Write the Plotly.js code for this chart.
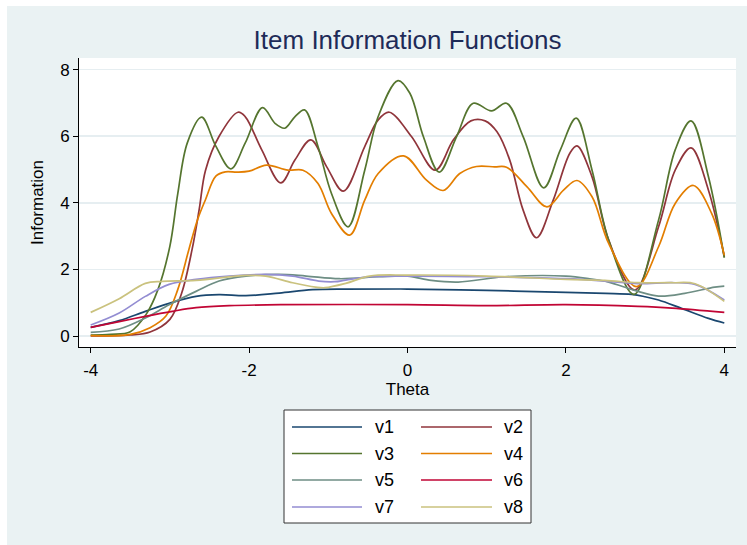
<!DOCTYPE html>
<html>
<head>
<meta charset="utf-8">
<script src="https://cdn.plot.ly/plotly-3.0.1.min.js"></script>
<style>
  html, body { margin: 0; padding: 0; background: #ffffff; }
  #chart { position: absolute; left: 7px; top: 6px; width: 740px; height: 539px; }
</style>
</head>
<body>
<div id="chart"></div>
<script>
// ---------------- DATA ----------------
const seriesNames = ['v1', 'v2', 'v3', 'v4', 'v5', 'v6', 'v7', 'v8'];

const v1_theta = [-4, -3.64, -3.31, -2.97, -2.67, -2.38, -2.04, -1.62, -1.2, -0.78, 0, 1, 2, 2.5, 2.83, 3.0, 3.17, 3.46, 3.8, 4];
const v1_info  = [0.26, 0.46, 0.74, 1.01, 1.19, 1.24, 1.21, 1.29, 1.39, 1.41, 1.41, 1.37, 1.31, 1.28, 1.25, 1.18, 1.08, 0.83, 0.53, 0.39];

const v2_theta = [-4, -3.5, -3.25, -3.0, -2.85, -2.72, -2.63, -2.55, -2.38, -2.14, -2.05, -1.84, -1.6, -1.42, -1.22, -1.02, -0.81, -0.54, -0.37, -0.23, 0.05, 0.35, 0.58, 0.8, 0.98, 1.13, 1.29, 1.46, 1.63, 1.84, 2.05, 2.14, 2.33, 2.54, 2.87, 3.17, 3.38, 3.58, 3.8, 4];
const v2_info  = [0.0, 0.03, 0.12, 0.5, 1.3, 2.6, 3.8, 4.98, 5.99, 6.72, 6.59, 5.59, 4.60, 5.29, 5.89, 5.08, 4.35, 5.69, 6.49, 6.72, 5.99, 4.98, 5.89, 6.46, 6.46, 6.13, 5.29, 3.78, 2.95, 4.08, 5.49, 5.71, 4.78, 2.88, 1.38, 3.28, 4.98, 5.65, 4.38, 2.38];

const v3_theta = [-4, -3.75, -3.5, -3.3, -3.15, -3.0, -2.9, -2.78, -2.6, -2.42, -2.23, -2.05, -1.83, -1.67, -1.55, -1.42, -1.3, -1.13, -0.96, -0.75, -0.54, -0.37, -0.12, 0.03, 0.2, 0.4, 0.62, 0.83, 1.06, 1.25, 1.46, 1.72, 1.93, 2.13, 2.33, 2.54, 2.86, 3.17, 3.38, 3.58, 3.8, 4];
const v3_info  = [0.03, 0.05, 0.13, 0.65, 1.4, 2.7, 4.28, 5.8, 6.57, 5.7, 5.02, 5.79, 6.86, 6.38, 6.24, 6.59, 6.79, 5.69, 4.28, 3.28, 4.98, 6.59, 7.67, 7.29, 5.99, 4.92, 5.99, 6.99, 6.76, 6.99, 5.99, 4.45, 5.59, 6.54, 4.98, 2.88, 1.25, 3.48, 5.59, 6.46, 4.78, 2.35];

const v4_theta = [-4, -3.5, -3.25, -3.05, -2.9, -2.76, -2.65, -2.55, -2.42, -2.3, -2.15, -2.0, -1.78, -1.51, -1.32, -1.13, -0.96, -0.73, -0.54, -0.37, -0.05, 0.24, 0.45, 0.66, 0.87, 1.1, 1.25, 1.51, 1.76, 1.97, 2.14, 2.33, 2.54, 2.89, 3.17, 3.38, 3.61, 3.84, 4];
const v4_info  = [0.01, 0.05, 0.25, 0.6, 1.4, 2.6, 3.5, 4.1, 4.8, 4.93, 4.92, 4.95, 5.13, 4.98, 4.98, 4.58, 3.68, 3.03, 4.08, 4.88, 5.41, 4.68, 4.37, 4.88, 5.09, 5.08, 5.07, 4.48, 3.88, 4.38, 4.67, 4.18, 2.78, 1.48, 2.68, 3.98, 4.52, 3.68, 2.42];

const v5_theta = [-4, -3.64, -3.31, -3.01, -2.67, -2.38, -2.04, -1.62, -1.28, -0.86, -0.36, 0, 0.3, 0.64, 1.23, 2.0, 2.3, 2.54, 2.87, 3.17, 3.5, 3.88, 4];
const v5_info  = [0.11, 0.21, 0.54, 0.94, 1.34, 1.65, 1.80, 1.85, 1.80, 1.72, 1.78, 1.80, 1.67, 1.62, 1.78, 1.80, 1.72, 1.62, 1.37, 1.20, 1.28, 1.47, 1.50];

const v6_theta = [-4, -3.64, -3.31, -2.97, -2.67, -2.25, -1.6, 0, 1, 2, 2.91, 3.34, 4];
const v6_info  = [0.26, 0.43, 0.59, 0.74, 0.85, 0.91, 0.94, 0.94, 0.91, 0.94, 0.89, 0.84, 0.71];

const v7_theta = [-4, -3.64, -3.31, -3.01, -2.67, -2.25, -1.79, -1.45, -1.12, -0.92, -0.78, -0.48, 0, 1, 2, 2.49, 2.91, 3.34, 3.63, 4];
const v7_info  = [0.33, 0.69, 1.19, 1.55, 1.70, 1.80, 1.85, 1.80, 1.65, 1.63, 1.68, 1.78, 1.80, 1.78, 1.72, 1.65, 1.57, 1.60, 1.55, 1.08];

const v8_theta = [-4, -3.64, -3.31, -3.1, -2.67, -2.04, -1.79, -1.45, -1.16, -1.04, -0.78, -0.48, 0, 1, 2, 2.49, 2.91, 3.34, 3.63, 4];
const v8_info  = [0.71, 1.12, 1.58, 1.64, 1.67, 1.82, 1.80, 1.60, 1.47, 1.45, 1.58, 1.80, 1.83, 1.80, 1.70, 1.67, 1.60, 1.60, 1.57, 1.04];

const xTickVals = [-4, -2, 0, 2, 4];
const yTickVals = [0, 2, 4, 6, 8];
const titleText = 'Item Information Functions';
const xTitleText = 'Theta';
const yTitleText = 'Information';

// ---------------- STYLE ----------------
const seriesColors = ['#1a476f', '#90353b', '#55752f', '#e37e00', '#6e8e84', '#c10534', '#938dd2', '#cac27e'];
const thetaArrays = [v1_theta, v2_theta, v3_theta, v4_theta, v5_theta, v6_theta, v7_theta, v8_theta];
const infoArrays  = [v1_info, v2_info, v3_info, v4_info, v5_info, v6_info, v7_info, v8_info];
const FONT = 'Liberation Sans, Arial, Helvetica, sans-serif';
const BG = '#eaf2f3';

// Plot area in page pixels (chart div is offset by 7,6)
const PL = 79, PR = 736, PT = 58, PB = 347;
const OFFX = 7, OFFY = 6, W = 740, H = 539;
const px2paperX = p => (p - PL) / (PR - PL);
const px2paperY = p => (PB - p) / (PB - PT);

const traces = seriesNames.map((name, i) => ({
  type: 'scatter',
  mode: 'lines',
  name: name,
  x: thetaArrays[i],
  y: infoArrays[i],
  line: { color: seriesColors[i], width: 1.7, shape: 'spline', smoothing: 1 },
  hoverinfo: 'x+y+name'
}));

// ---------------- custom Stata-style legend ----------------
const shapes = [];
const annotations = [];
shapes.push({
  type: 'rect', xref: 'paper', yref: 'paper',
  x0: px2paperX(284), x1: px2paperX(531), y0: px2paperY(410), y1: px2paperY(523),
  fillcolor: '#ffffff', line: { color: '#333333', width: 1 }, layer: 'above'
});
const colLineX = [[292, 362], [421, 492]];
const colTextX = [373, 502];
const rowY = [427, 453.5, 480, 507];
seriesNames.forEach((name, i) => {
  const c = i % 2, r = Math.floor(i / 2);
  shapes.push({
    type: 'line', xref: 'paper', yref: 'paper',
    x0: px2paperX(colLineX[c][0]), x1: px2paperX(colLineX[c][1]),
    y0: px2paperY(rowY[r]), y1: px2paperY(rowY[r]),
    line: { color: seriesColors[i], width: 1.7 }, layer: 'above'
  });
  annotations.push({
    xref: 'paper', yref: 'paper', x: px2paperX(colTextX[c]), y: px2paperY(rowY[r]),
    xanchor: 'left', yanchor: 'middle', text: name, showarrow: false,
    font: { family: FONT, size: 18, color: '#000000' }
  });
});

const layout = {
  width: W, height: H,
  paper_bgcolor: BG,
  plot_bgcolor: '#ffffff',
  showlegend: false,
  margin: { l: PL - OFFX, r: (OFFX + W) - PR, t: PT - OFFY, b: (OFFY + H) - PB, pad: 0 },
  title: {
    text: titleText,
    font: { family: FONT, size: 26, color: '#1e2b58' },
    x: 0.5, xref: 'paper', xanchor: 'center',
    y: 1 - (40 - OFFY) / H, yref: 'container', yanchor: 'middle'
  },
  xaxis: {
    range: [-4 - (90.7 - PL) / 79.2, 4 + (PR - 724.3) / 79.2],
    tickvals: xTickVals, ticktext: xTickVals.map(String),
    ticks: 'outside', ticklen: 5, tickwidth: 1, tickcolor: '#000000',
    showline: true, linecolor: '#000000', linewidth: 1,
    showgrid: false, zeroline: false,
    tickfont: { family: FONT, size: 17, color: '#000000' },
    ticklabelstandoff: 3,
    title: { text: xTitleText, font: { family: FONT, size: 17, color: '#000000' }, standoff: 2 },
    fixedrange: true
  },
  yaxis: {
    range: [-(PB - 336) / 33.3, (336 - PT) / 33.3],
    tickvals: yTickVals, ticktext: yTickVals.map(String),
    ticks: 'outside', ticklen: 5, tickwidth: 1, tickcolor: '#000000',
    showline: true, linecolor: '#000000', linewidth: 1,
    showgrid: true, gridcolor: '#e6eef1', gridwidth: 1.5, zeroline: false,
    tickfont: { family: FONT, size: 17, color: '#000000' },
    tickangle: 0,
    title: { text: yTitleText, font: { family: FONT, size: 17, color: '#000000' }, standoff: 12 },
    fixedrange: true
  },
  shapes: shapes,
  annotations: annotations
};

Plotly.newPlot('chart', traces, layout, { displayModeBar: false, staticPlot: true });
</script>
</body>
</html>
